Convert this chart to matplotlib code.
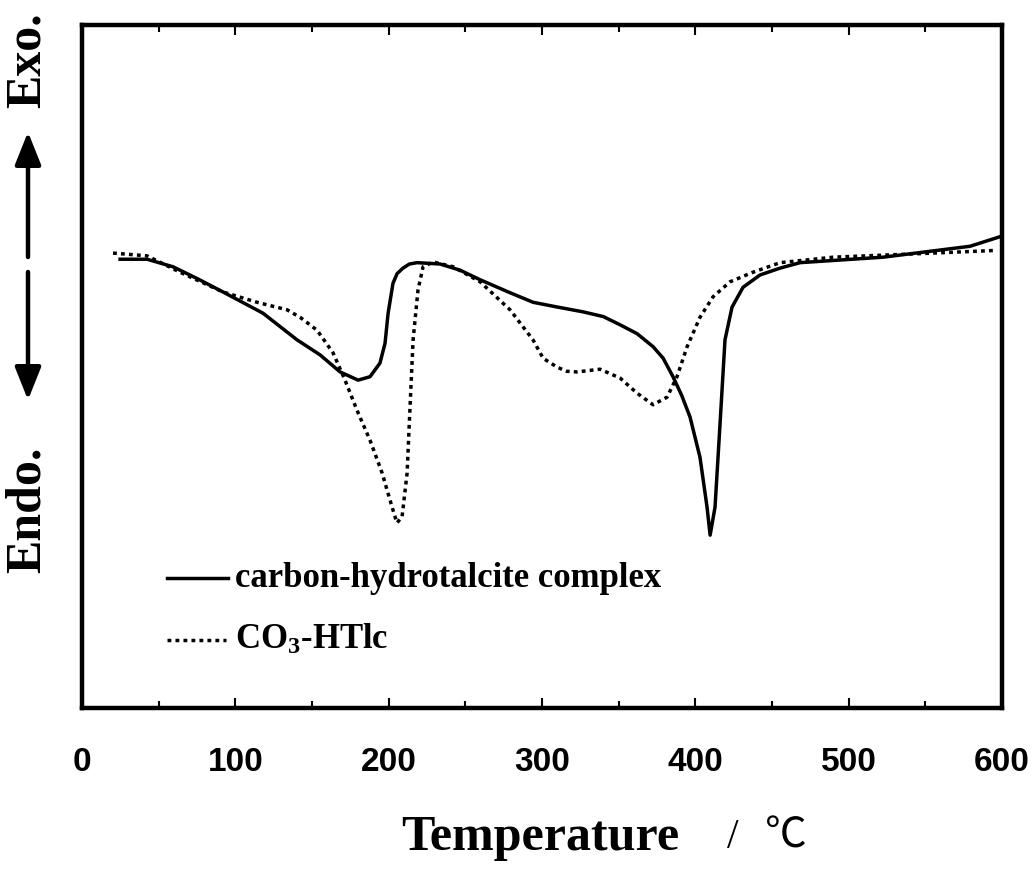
import matplotlib
matplotlib.use("Agg")
import matplotlib.pyplot as plt
from matplotlib.lines import Line2D
from matplotlib.ticker import MultipleLocator

# ---- data ----
temp_complex = [24.8, 42.4, 59.3, 75.7, 92.0, 118.0, 140.2, 155.2, 168.3, 180.0, 187.8,
                194.3, 197.6, 199.6, 202.8, 205.5, 209.3, 213.5, 218.5, 233.5, 246.5, 259.6,
                277.0, 294.1, 310.0, 326.7, 340.0, 350.9, 362.0, 372.4, 379.0, 385.4, 391.0,
                396.5, 403.0, 407.6, 409.6, 412.8, 416.1, 419.3, 423.9, 431.1, 442.2,
                455.2, 468.3, 522.4, 579.1, 598.7]
dta_complex = [65.7, 65.7, 64.6, 62.8, 60.9, 57.8, 53.9, 51.7, 49.2, 48.0, 48.5,
               50.5, 53.4, 57.8, 62.2, 63.6, 64.4, 65.0, 65.2, 65.0, 64.1, 62.7,
               61.0, 59.4, 58.7, 58.0, 57.3, 56.1, 54.8, 52.9, 51.2, 48.5, 45.8,
               42.6, 36.7, 29.4, 25.3, 29.4, 41.7, 53.9, 58.7, 61.6, 63.4,
               64.4, 65.2, 66.0, 67.6, 69.0]

temp_co3 = [20.2, 42.4, 63.9, 92.0, 114.1, 133.7, 142.2, 153.3, 163.7, 171.5,
            179.3, 187.8, 195.7, 202.2, 205.4, 208.7, 212.0, 213.9, 215.9, 219.1,
            222.4, 228.9, 242.0, 259.6, 279.1, 294.1, 300.7, 309.8, 316.0, 322.8,
            337.8, 350.9, 361.9, 372.4, 381.5, 388.0, 394.6, 403.0, 411.5, 422.6,
            437.6, 455.2, 489.8, 555.0, 596.7]
dta_co3 = [66.6, 66.2, 63.8, 60.9, 59.4, 58.3, 57.2, 55.3, 52.0, 48.0,
           43.6, 39.2, 34.4, 29.4, 27.1, 28.0, 34.4, 44.1, 53.9, 61.2,
           64.6, 65.3, 64.6, 62.4, 58.3, 53.9, 51.2, 49.9, 49.3, 49.2,
           49.6, 48.3, 46.1, 44.4, 45.5, 48.5, 52.9, 57.2, 60.2, 62.4,
           63.8, 65.2, 66.0, 66.6, 67.0]

x_ticks = [0, 100, 200, 300, 400, 500, 600]
series_labels = ["carbon-hydrotalcite complex", "CO$_{3}$-HTlc"]

# ---- styling ----
plt.rcParams['mathtext.fontset'] = 'custom'
plt.rcParams['mathtext.rm'] = 'Liberation Serif:bold'
plt.rcParams['mathtext.it'] = 'Liberation Serif:bold'
plt.rcParams['mathtext.bf'] = 'Liberation Serif:bold'

fig = plt.figure(figsize=(10.32, 8.76), dpi=100)
ax = fig.add_axes([0.0795, 0.1918, 0.8915, 0.7797])

lw = 2.5
dot_style = (0, (1.1, 1.2))
ax.plot(temp_complex, dta_complex, color='black', lw=lw, solid_joinstyle='round')
ax.plot(temp_co3, dta_co3, color='black', lw=lw, linestyle=dot_style,
        dash_capstyle='butt')

ax.set_xlim(0, 600)
ax.set_ylim(0, 100)

for s in ax.spines.values():
    s.set_linewidth(3.2)

ax.set_yticks([])
ax.set_xticks(x_ticks)
ax.xaxis.set_minor_locator(MultipleLocator(50))
ax.tick_params(axis='x', which='both', direction='in', top=True, bottom=True,
               width=1.5, pad=28)
ax.tick_params(axis='x', which='major', length=7)
ax.tick_params(axis='x', which='minor', length=5)
for lab in ax.get_xticklabels():
    lab.set_fontfamily('Liberation Sans')
    lab.set_fontweight('bold')
    lab.set_fontsize(24)

# manual legend
ax.add_line(Line2D([0.092, 0.159], [0.190, 0.190], transform=ax.transAxes,
                   color='black', lw=lw))
ax.add_line(Line2D([0.092, 0.156], [0.100, 0.100], transform=ax.transAxes,
                   color='black', lw=lw, linestyle=dot_style,
                   dash_capstyle='butt'))
ax.text(0.166, 0.190, series_labels[0], transform=ax.transAxes,
        family='Liberation Serif', weight='bold', fontsize=25, va='center', ha='left')
ax.text(0.166, 0.100, series_labels[1], transform=ax.transAxes,
        family='Liberation Serif', weight='bold', fontsize=25, va='center', ha='left')

# x label
fig.text(540 / 1032, 1 - 838 / 876, "Temperature", family='Liberation Serif',
         weight='bold', fontsize=36, ha='center', va='center')
fig.text(733 / 1032, 1 - 838 / 876, "/", family='Liberation Serif',
         fontsize=30, ha='center', va='center')
fig.text(786 / 1032, 1 - 836 / 876, "℃", family=['Noto Sans CJK JP', 'DejaVu Sans'],
         fontsize=30, ha='center', va='center')

# y label: Exo. / Endo. with arrows
fig.text(28 / 1032, 1 - 60 / 876, "Exo.", family='Liberation Serif', weight='bold',
         fontsize=36, rotation=90, ha='center', va='center')
fig.text(28 / 1032, 1 - 510 / 876, "Endo.", family='Liberation Serif', weight='bold',
         fontsize=36, rotation=90, ha='center', va='center')
arrow_kw = dict(arrowstyle='-|>,head_length=1.0,head_width=0.4', lw=3.2,
                color='black', mutation_scale=20, shrinkA=0, shrinkB=0)
fig.add_artist(matplotlib.patches.FancyArrowPatch(
    (28 / 1032, 1 - 257 / 876), (28 / 1032, 1 - 132 / 876),
    transform=fig.transFigure, **arrow_kw))
fig.add_artist(matplotlib.patches.FancyArrowPatch(
    (28 / 1032, 1 - 272 / 876), (28 / 1032, 1 - 400 / 876),
    transform=fig.transFigure, **arrow_kw))

fig.savefig("out.png", dpi=100)
